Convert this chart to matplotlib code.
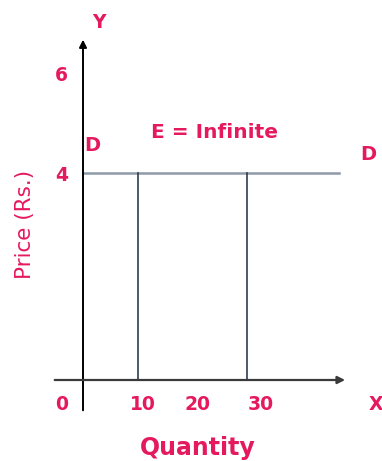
import matplotlib
matplotlib.use('Agg')
import matplotlib.pyplot as plt

# -------------------------------
# data
# -------------------------------
price = 4                      # perfectly elastic demand at Rs. 4
quantities = [10, 30]          # dropped lines from the demand curve
demand_end = 47.0              # where the drawn demand line stops
price_ticks = [4, 6]
qty_ticks = [0, 10, 20, 30]

# label positions (layout only)
qty_label_x = [-3.94, 10.9, 21.0, 32.6]
price_label_y = [3.96, 5.88]
pink = '#e5195e'
bold = dict(family='DejaVu Sans', weight='bold', color=pink, ha='center', va='center')

fig = plt.figure(figsize=(3.82, 4.61), dpi=100)
ax = fig.add_axes([0, 0, 1, 1])
ax.set_xlim(-83 / 5.45, 299 / 5.45)
ax.set_ylim(-81 / 51.75, 380 / 51.75)
ax.axis('off')

# axes with arrow heads
ax.annotate('', xy=(0, 6.63), xytext=(0, -0.64),
            arrowprops=dict(arrowstyle='-|>', color='black', lw=1.4, mutation_scale=11))
ax.annotate('', xy=(48.6, 0), xytext=(-5.7, 0),
            arrowprops=dict(arrowstyle='-|>', color='#3a3a3a', lw=1.6, mutation_scale=11))

# demand line and the quantity drops
ax.plot([0, demand_end], [price, price], color='#8e9aa8', lw=1.8)
for q in quantities:
    ax.plot([q, q], [0, price], color='#2e3d4f', lw=1.2)

# tick labels
for p, ly in zip(price_ticks, price_label_y):
    ax.text(-3.9, ly, str(p), fontsize=13.5, **bold)
for q, lx in zip(qty_ticks, qty_label_x):
    ax.text(lx, -0.48, str(q), fontsize=13.5, **bold)

ax.text(2.94, 6.91, 'Y', fontsize=13.5, **bold)
ax.text(53.8, -0.48, 'X', fontsize=13.5, **bold)
ax.text(1.74, 4.53, 'D', fontsize=14, **bold)
ax.text(52.4, 4.35, 'D', fontsize=14, **bold)
ax.text(24.2, 4.78, 'E = Infinite', fontsize=14.5, **bold)
ax.text(21.0, -1.44, 'Quantity', fontsize=17, family='DejaVu Sans', weight='bold',
        color=pink, ha='center', va='baseline')
ax.text(-10.6, 3.01, 'Price (Rs.)', ha='center', va='center', rotation=90,
        fontsize=15.5, family='DejaVu Sans', color=pink)

fig.savefig('out.png', dpi=100)
